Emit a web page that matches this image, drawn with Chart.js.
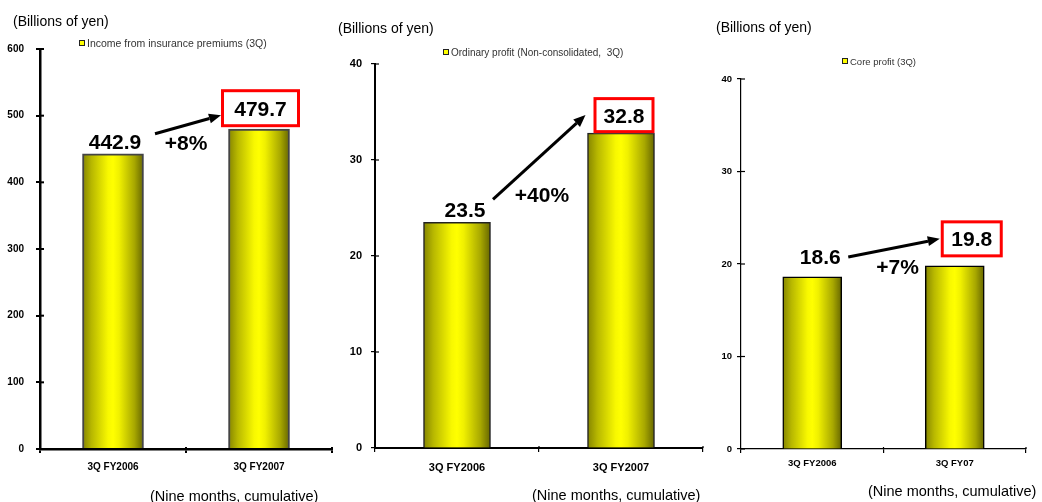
<!doctype html>
<html lang="en">
<head>
<meta charset="utf-8">
<title>3Q results</title>
<script src="https://cdn.jsdelivr.net/npm/chart.js"></script>
<style>
  body { margin: 0; background: #fff; font-family: Arial, "Liberation Sans", sans-serif; }
  .wrap { position: relative; width: 1042px; height: 502px; overflow: hidden; }
  canvas { position: absolute; top: 0; }
  .unit, .note, .legend { position: absolute; white-space: nowrap; color: #000; line-height: 1; }
  .unit { font-size: 14px; }
  .note { font-size: 14.5px; }
  .legend { color: #333; }
  .legend i { display: inline-block; width: 4px; height: 4px; background: #ffff00; border: 1px solid #222; margin-right: 2px; vertical-align: 1px; }
</style>
</head>
<body>
<div class="wrap">
  <canvas id="c1" width="337" height="502" style="left:0"></canvas>
  <canvas id="c2" width="368" height="502" style="left:337px"></canvas>
  <canvas id="c3" width="337" height="502" style="left:705px"></canvas>

  <div class="unit" style="left:13px;top:14px">(Billions of yen)</div>
  <div class="unit" style="left:338px;top:21px">(Billions of yen)</div>
  <div class="unit" style="left:716px;top:20px">(Billions of yen)</div>

  <div class="legend" style="left:79px;top:38px;font-size:10.5px"><i></i>Income from insurance premiums (3Q)</div>
  <div class="legend" style="left:443px;top:48px;font-size:10px"><i></i>Ordinary profit (Non-consolidated,&nbsp; 3Q)</div>
  <div class="legend" style="left:842px;top:57px;font-size:9.5px"><i></i>Core profit (3Q)</div>

  <div class="note" style="left:150px;top:489px">(Nine months, cumulative)</div>
  <div class="note" style="left:532px;top:488px">(Nine months, cumulative)</div>
  <div class="note" style="left:868px;top:484px">(Nine months, cumulative)</div>
</div>

<script>
  // data
  const categories1 = ['3Q FY2006', '3Q FY2007'];
  const premiums = [442.9, 479.7];
  const categories2 = ['3Q FY2006', '3Q FY2007'];
  const ordinaryProfit = [23.5, 32.8];
  const categories3 = ['3Q FY2006', '3Q FY07'];
  const coreProfit = [18.6, 19.8];
  const growthLabels = ['+8%', '+40%', '+7%'];
  const yMax = [600, 40, 40];
  const yStep = [100, 10, 10];

  const FONT = 'Arial, "Liberation Sans", sans-serif';

  const panels = [
    { id: 'c1', labels: categories1, values: premiums, max: yMax[0], step: yStep[0], growth: growthLabels[0],
      yWidth: 40, xHeight: 53, pad: { top: 49, right: 5, left: 0, bottom: 0 },
      barW: 61, barBorder: 2, barEdge: '#444', axisW: 2.5, tickSize: 10, yPad: 12, xPad: 8,
      l1: [2, 5], pct: [0, 4], box: [1.5, 2, 79, 38], a0: [42, 20], a1: [0, 12] },
    { id: 'c2', labels: categories2, values: ordinaryProfit, max: yMax[1], step: yStep[1], growth: growthLabels[1],
      yWidth: 38, xHeight: 54, pad: { top: 64, right: 2, left: 0, bottom: 0 },
      barW: 67, barBorder: 1.5, barEdge: '#222', axisW: 2, tickSize: 11, yPad: 9, xPad: 9,
      l1: [8, 5], pct: [3, 20], box: [3, 0, 61, 36], a0: [36, 23], a1: [-8, 18] },
    { id: 'c3', labels: categories3, values: coreProfit, max: yMax[2], step: yStep[2], growth: growthLabels[2],
      yWidth: 36, xHeight: 53, pad: { top: 79, right: 16, left: 0, bottom: 0 },
      barW: 59, barBorder: 1.5, barEdge: '#000', axisW: 1.2, tickSize: 9.5, yPad: 5, xPad: 5,
      l1: [8, 13], pct: [14, 3], box: [17, 8.5, 62, 37], a0: [36, 20], a1: [-1, 18.5] }
  ];

  // red box, arrow, value labels
  const calloutPlugin = {
    id: 'callout',
    afterDraw(chart) {
      const p = chart.options.plugins.callout;
      const c = chart.ctx, xs = chart.scales.x, ys = chart.scales.y;
      const v = chart.data.datasets[0].data;
      const x0 = xs.getPixelForValue(0), x1 = xs.getPixelForValue(1);
      const y0 = ys.getPixelForValue(v[0]), y1 = ys.getPixelForValue(v[1]);
      c.save();

      // inner half of tick marks
      c.strokeStyle = '#000';
      c.lineWidth = p.axisW > 2 ? 2 : 1.2;
      ys.ticks.forEach((t, i) => {
        const y = ys.getPixelForTick(i);
        c.beginPath(); c.moveTo(xs.left, y); c.lineTo(xs.left + 4, y); c.stroke();
      });
      for (let i = 1; i <= v.length; i++) {
        const x = xs.getPixelForValue(i - 0.5);
        c.beginPath(); c.moveTo(x, ys.bottom); c.lineTo(x, ys.bottom - 2); c.stroke();
      }

      c.font = 'bold 21px ' + FONT;
      c.textAlign = 'center';
      c.textBaseline = 'alphabetic';
      c.fillStyle = '#000';
      c.fillText(v[0].toFixed(1), x0 + p.l1[0], y0 - p.l1[1]);
      c.fillText(p.growth, (x0 + x1) / 2 + p.pct[0], y0 - p.pct[1]);

      const [bdx, gap, bw, bh] = p.box;
      const bl = x1 + bdx - bw / 2, bb = y1 - gap, bt = bb - bh;
      c.fillStyle = '#fff';
      c.fillRect(bl, bt, bw, bh);
      c.strokeStyle = '#ff0000';
      c.lineWidth = 3;
      c.strokeRect(bl + 1.5, bt + 1.5, bw - 3, bh - 3);
      c.fillStyle = '#000';
      c.fillText(v[1].toFixed(1), bl + bw / 2, bt + bh / 2 + 7.5);

      // arrow
      const sx = x0 + p.a0[0], sy = y0 - p.a0[1];
      const ex = bl + p.a1[0], ey = bb - p.a1[1];
      const ang = Math.atan2(ey - sy, ex - sx);
      const hl = 12, hw = 5;
      const bx = ex - hl * Math.cos(ang), by = ey - hl * Math.sin(ang);
      c.strokeStyle = '#000';
      c.lineWidth = 3;
      c.beginPath(); c.moveTo(sx, sy); c.lineTo(bx, by); c.stroke();
      c.beginPath();
      c.moveTo(ex, ey);
      c.lineTo(bx + hw * Math.sin(ang), by - hw * Math.cos(ang));
      c.lineTo(bx - hw * Math.sin(ang), by + hw * Math.cos(ang));
      c.closePath();
      c.fill();
      c.restore();
    }
  };

  panels.forEach(p => {
    const chart = new Chart(document.getElementById(p.id), {
      type: 'bar',
      data: {
        labels: p.labels,
        datasets: [{
          data: p.values,
          barThickness: p.barW,
          borderColor: p.barEdge,
          borderWidth: p.barBorder,
          borderSkipped: 'bottom',
          backgroundColor: ctx => {
            const chart = ctx.chart;
            const xs = chart.scales.x;
            if (!xs || ctx.dataIndex === undefined) return '#ffff00';
            const cx = xs.getPixelForValue(ctx.dataIndex);
            if (!isFinite(cx)) return '#ffff00';
            const g = chart.ctx.createLinearGradient(cx - p.barW / 2, 0, cx + p.barW / 2, 0);
            g.addColorStop(0, '#858500');
            g.addColorStop(0.15, '#b8b800');
            g.addColorStop(0.42, '#f8f800');
            g.addColorStop(0.5, '#ffff00');
            g.addColorStop(0.6, '#f0f000');
            g.addColorStop(0.85, '#a8a800');
            g.addColorStop(1, '#666600');
            return g;
          }
        }]
      },
      options: {
        responsive: false,
        animation: false,
        devicePixelRatio: 1,
        layout: { padding: p.pad },
        plugins: {
          legend: { display: false },
          tooltip: { enabled: false },
          callout: p
        },
        scales: {
          x: {
            afterFit: s => { s.height = p.xHeight; },
            border: { display: true, color: '#000', width: p.axisW },
            grid: { drawOnChartArea: false, drawTicks: true, tickLength: 4, color: '#000', lineWidth: p.axisW > 2 ? 2 : 1.2 },
            ticks: { color: '#000', padding: p.xPad, maxRotation: 0, font: { family: FONT, size: p.tickSize, weight: 'bold' } }
          },
          y: {
            min: 0,
            max: p.max,
            afterFit: s => { s.width = p.yWidth; },
            border: { display: true, color: '#000', width: p.axisW },
            grid: { drawOnChartArea: false, drawTicks: true, tickLength: 4, color: '#000', lineWidth: p.axisW > 2 ? 2 : 1.2 },
            ticks: { stepSize: p.step, color: '#000', padding: p.yPad, font: { family: FONT, size: p.tickSize, weight: 'bold' } }
          }
        }
      },
      plugins: [calloutPlugin]
    });
    chart.update();
  });
</script>
</body>
</html>
